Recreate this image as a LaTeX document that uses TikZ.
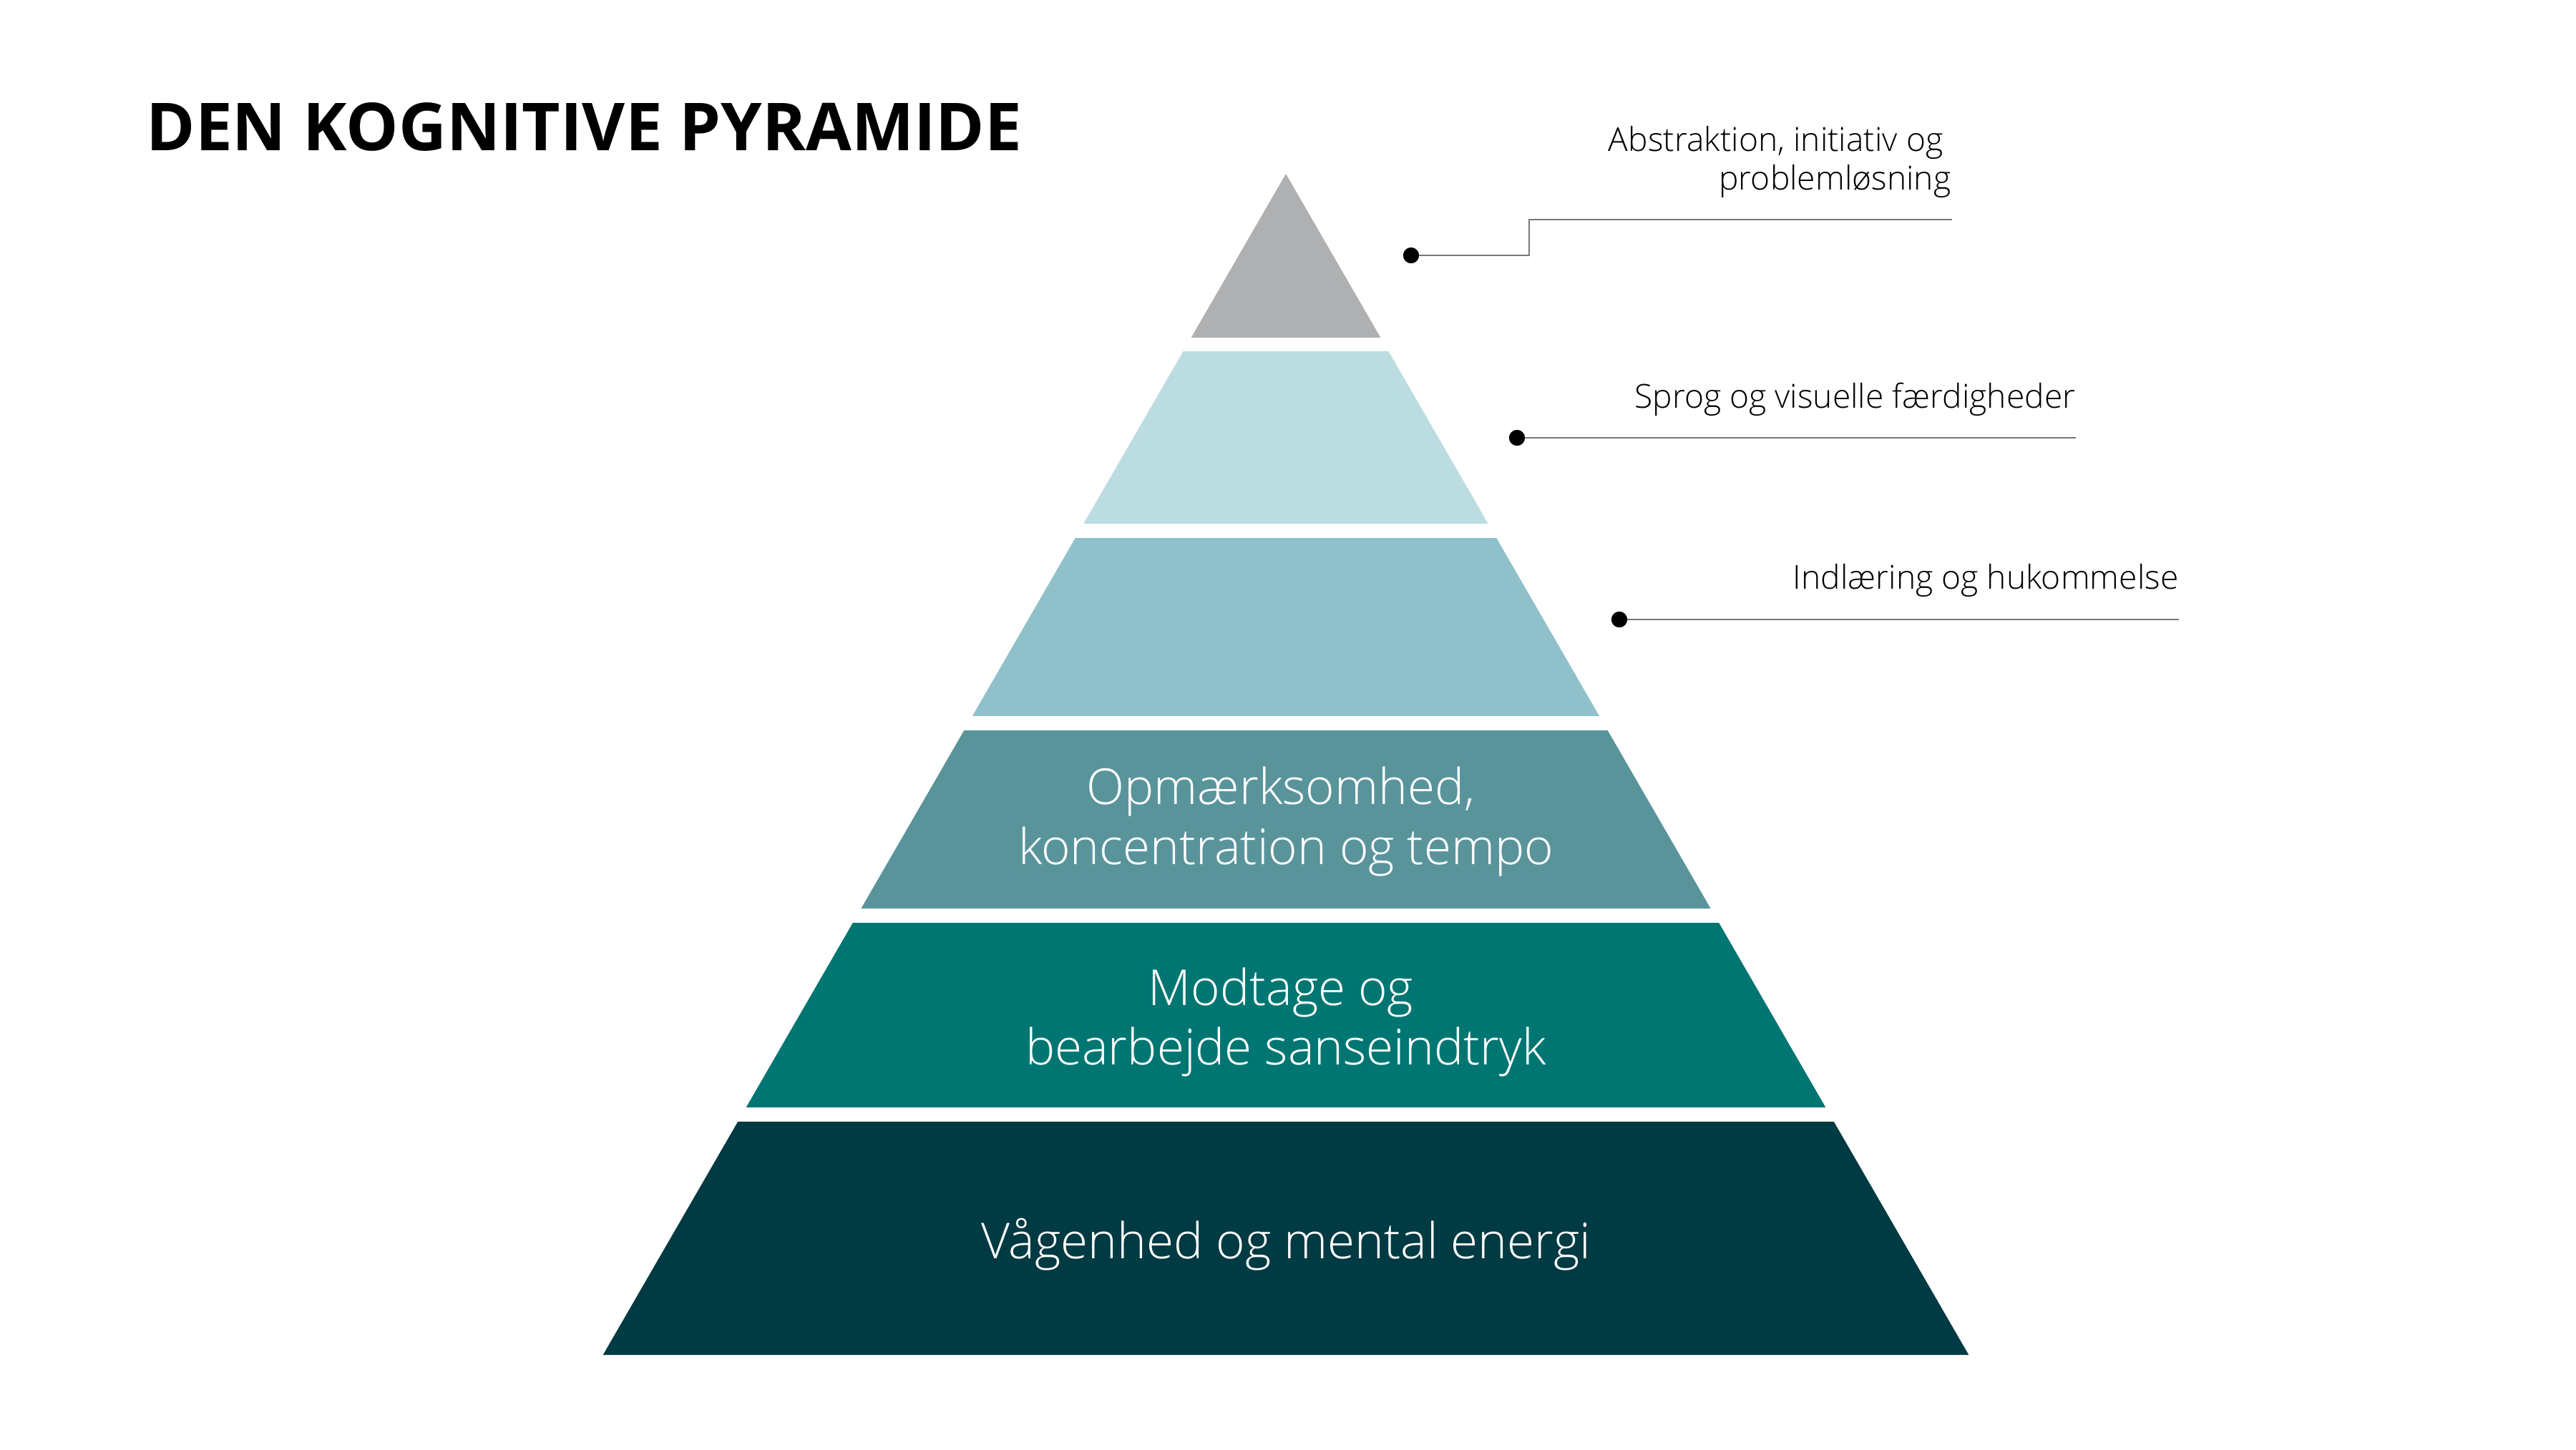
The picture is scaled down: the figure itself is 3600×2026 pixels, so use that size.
\documentclass[tikz,border=0pt]{standalone}
\usepackage{fontspec}
\setmainfont{Open Sans}
\newfontfamily\lightfont{Open Sans Light}
\definecolor{cgray}{RGB}{175,176,178}
\definecolor{cl2}{RGB}{187,220,224}
\definecolor{cl3}{RGB}{144,193,202}
\definecolor{cl4}{RGB}{90,148,155}
\definecolor{cl5}{RGB}{0,118,114}
\definecolor{cl6}{RGB}{0,58,66}
\definecolor{cline}{RGB}{120,120,120}
\newcommand{\pyrlayer}[3]{%
  \fill[#3] ({1797-0.578*(#1-243)},#1) -- ({1797+0.578*(#1-243)},#1)
    -- ({1797+0.578*(#2-243)},#2) -- ({1797-0.578*(#2-243)},#2) -- cycle;}
\tikzset{
  layertext/.style={text=white, font=\lightfont\fontsize{19.7}{23}\selectfont, inner sep=0pt, anchor=base},
  sidetext/.style={text=black, font=\lightfont\fontsize{13.15}{16}\selectfont, inner sep=0pt, anchor=base east},
  titletext/.style={text=black, font=\bfseries\fontsize{26.3}{30}\selectfont, inner sep=0pt, anchor=base west},
  dotnode/.style={circle, fill=black, inner sep=0pt, minimum size=2.2mm},
  leader/.style={draw=cline, line width=0.7pt}
}
\begin{document}
\begin{tikzpicture}[x=0.1mm,y=-0.1mm]
\useasboundingbox (0,0) rectangle (3600,2026);
\fill[white] (0,0) rectangle (3600,2026);
% pyramid layers
\fill[cgray] (1797,243) -- ({1797+0.578*(472-243)},472) -- ({1797-0.578*(472-243)},472) -- cycle;
\pyrlayer{491}{732}{cl2}
\pyrlayer{752}{1001}{cl3}
\pyrlayer{1021}{1270}{cl4}
\pyrlayer{1290}{1548}{cl5}
\pyrlayer{1568}{1894}{cl6}
% title
\node[titletext] (title) at (204,210) {DEN KOGNITIVE PYRAMIDE};
% layer texts
\node[layertext] (t4a) at (1790,1124) {Opmærksomhed,};
\node[layertext] (t4b) at (1797,1208) {koncentration og tempo};
\node[layertext] (t5a) at (1790,1405) {Modtage og};
\node[layertext] (t5b) at (1797,1488) {bearbejde sanseindtryk};
\node[layertext] (t6) at (1797,1759) {Vågenhed og mental energi};
% side labels
\node[sidetext] (s1a) at (2716,211) {Abstraktion, initiativ og};
\node[sidetext] (s1b) at (2727,265) {problemløsning};
\node[sidetext] (s2) at (2901,570) {Sprog og visuelle færdigheder};
\node[sidetext] (s3) at (3045,823) {Indlæring og hukommelse};
% leaders
\node[dotnode] (d1) at (1972,357) {};
\node[dotnode] (d2) at (2120,612) {};
\node[dotnode] (d3) at (2263,866) {};
\coordinate (e1a) at (2137,357);
\coordinate (e1b) at (2137,307);
\coordinate (e1) at (2728,307);
\coordinate (e2) at (2901,612);
\coordinate (e3) at (3045,866);
\draw[leader] (d1.center) -- (e1a) -- (e1b) -- (e1);
\draw[leader] (d2.center) -- (e2);
\draw[leader] (d3.center) -- (e3);
\fill[black] (d1) circle (11);
\fill[black] (d2) circle (11);
\fill[black] (d3) circle (11);
\end{tikzpicture}
\end{document}
